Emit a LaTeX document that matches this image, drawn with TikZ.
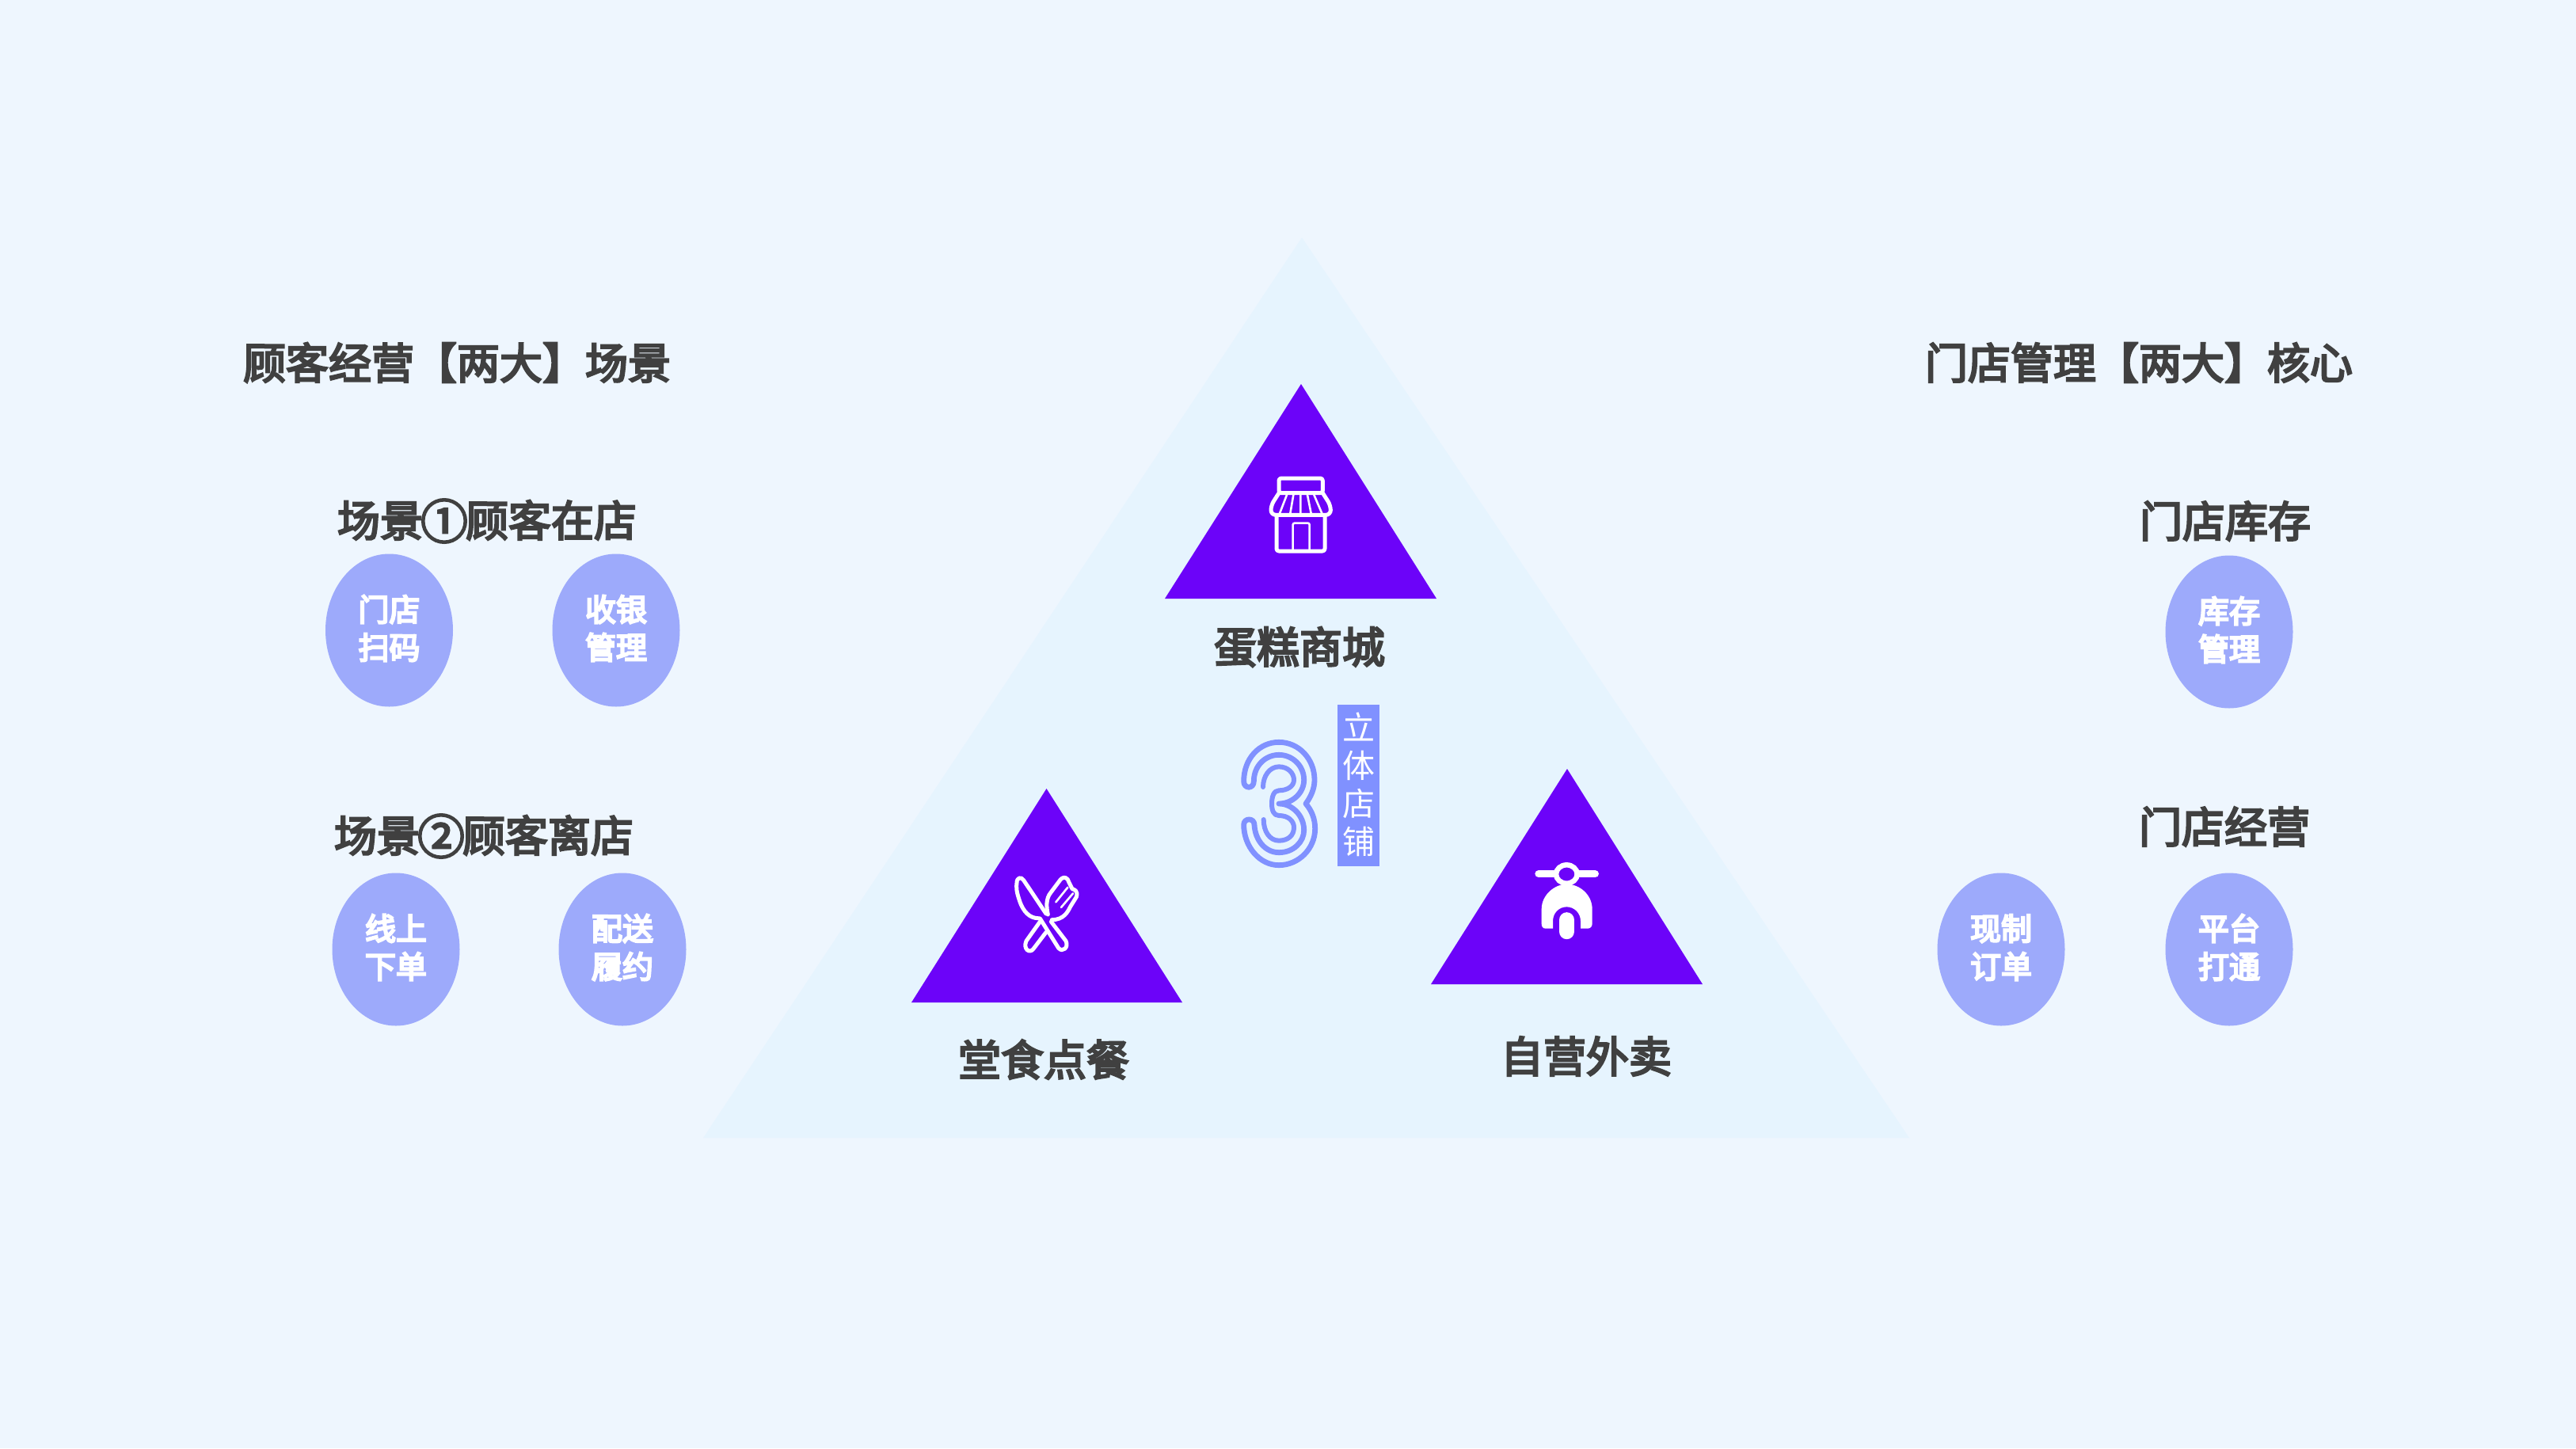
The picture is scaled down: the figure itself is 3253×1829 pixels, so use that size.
\documentclass[tikz,border=0pt]{standalone}
\usepackage{fontspec}
\usetikzlibrary{shapes.geometric}
\newfontfamily\cjk{Noto Sans CJK SC}
\newfontfamily\cjkm[FakeBold=4.5]{Noto Sans CJK SC}
\newfontfamily\cjkb[FakeBold=6]{Noto Sans CJK SC}
\newcommand{\bigcirclednum}[1]{\makebox[54pt][c]{\raisebox{-3pt}{\scalebox{1.1}{#1}}}}
\definecolor{bgc}{HTML}{EEF6FE}
\definecolor{bigtri}{HTML}{E6F4FE}
\definecolor{purp}{HTML}{6C03F9}
\definecolor{pill}{HTML}{9DAAFB}
\definecolor{peri}{HTML}{8091FF}
\definecolor{txt}{HTML}{404040}
\tikzset{
  heading/.style={inner sep=0pt,text=txt,font=\cjkm\fontsize{54}{60}\selectfont},
  bubble/.style={ellipse,fill=pill,inner sep=0pt,minimum width=161pt,minimum height=193pt,align=center,text=white,text depth=8pt,font=\cjkb\fontsize{39}{48}\selectfont},
  iconline/.style={draw=white,line width=5pt,line join=round,line cap=round},
  iconthin/.style={draw=white,line width=2.6pt,line join=round,line cap=round},
  threeline/.style={draw=peri,line join=round,line cap=round}
}
\begin{document}
\begin{tikzpicture}[x=1pt,y=-1pt]
\useasboundingbox (0,0) rectangle (3253,1829);
\fill[bgc] (0,0) rectangle (3253,1829);
\fill[bigtri] (1644,300) -- (2411,1437) -- (888,1437) -- cycle;
\fill[purp] (1643,485) -- (1814,756) -- (1471,756) -- cycle;
\fill[purp] (1321.5,996) -- (1493,1266) -- (1151,1266) -- cycle;
\fill[purp] (1979,971) -- (2150,1243) -- (1807,1243) -- cycle;
% shop icon
\begin{scope}[shift={(1420,460)},x=1/3*1pt,y=-1/3*1pt]
\draw[iconline,rounded corners=3pt] (585,432) rectangle (751,488);
\draw[iconline,rounded corners=6pt] (585,488) -- (555,535) -- (555,571) -- (781,571) -- (781,535) -- (751,488);
\draw[iconthin] (615,495) -- (588,565) (640,495) -- (628,565) (667,495) -- (667,565) (693,495) -- (707,565) (718,495) -- (748,565);
\draw[iconline,rounded corners=3pt] (576,575) -- (576,708) -- (759,708) -- (759,575);
\draw[iconthin,rounded corners=2pt] (638,702) -- (638,602) -- (701,602) -- (701,702);
\end{scope}
% knife and fork
\begin{scope}[shift={(1220,1060)},x=1/3*1pt,y=-1/3*1pt]
\draw[iconline] (303,282) -- (218,155) .. controls (208,140) and (192,145) .. (192,165) .. controls (190,180) and (190,195) .. (200,225) .. controls (210,260) and (230,292) .. (262,298) -- (280,300) -- (350,412) .. controls (365,430) and (390,410) .. (378,385) -- (322,312);
\draw[iconline] (280,312) -- (228,385) .. controls (215,415) and (240,435) .. (255,415) -- (303,352);
\draw[iconline] (325,305) .. controls (370,305) and (385,275) .. (395,255) -- (418,218) .. controls (425,195) and (410,190) .. (402,188) .. controls (395,172) and (390,165) .. (385,152) .. controls (375,140) and (365,145) .. (358,152) -- (322,200) .. controls (300,225) and (305,260) .. (310,285);
\draw[iconthin] (340,238) -- (385,182) (360,258) -- (405,205);
\end{scope}
% scooter
\begin{scope}[shift={(1880,1060)},x=1/3*1pt,y=-1/3*1pt]
\draw[white,line width=9.3pt,line cap=round] (189,131) -- (403,131);
\fill[white] (215,338) .. controls (205,338) and (200,330) .. (200,320) -- (200,265) .. controls (200,210) and (250,170) .. (295,170) .. controls (345,170) and (392,210) .. (392,265) -- (392,320) .. controls (392,330) and (385,338) .. (375,338) -- (348,338) -- (348,310) .. controls (348,280) and (325,256) .. (295,256) .. controls (265,256) and (243,280) .. (243,310) -- (243,338) -- cycle;
\draw[white,fill=purp,line width=6.5pt] (295,132) ellipse [x radius=40,y radius=35];
\draw[white,line width=19.7pt,line cap=round] (295.5,306) -- (295.5,349);
\end{scope}
% numeral
\begin{scope}[shift={(1500,860)},x=1/3*1pt,y=-1/3*1pt]
\draw[threeline,line width=6.8pt] (212,380) .. controls (212,295) and (270,232) .. (345,232) .. controls (420,232) and (480,295) .. (480,375) .. controls (480,410) and (465,440) .. (447,465) .. controls (468,490) and (482,520) .. (482,560) .. controls (482,635) and (420,698) .. (345,698) .. controls (270,698) and (212,625) .. (212,545) .. controls (212,518) and (252,518) .. (252,545) .. controls (255,605) and (295,650) .. (345,650) .. controls (400,650) and (440,610) .. (440,565) .. controls (440,510) and (395,465) .. (345,465) .. controls (395,465) and (440,425) .. (440,375) .. controls (440,320) and (395,280) .. (345,280) .. controls (295,280) and (250,320) .. (250,380) .. controls (250,410) and (212,410) .. (212,380) -- cycle;
\draw[threeline,line width=6pt] (285,402) .. controls (285,360) and (310,325) .. (345,325) .. controls (380,325) and (402,350) .. (402,375) .. controls (402,400) and (375,415) .. (345,415) .. controls (325,415) and (318,440) .. (318,465) .. controls (318,490) and (325,510) .. (345,510) .. controls (380,510) and (402,530) .. (402,555) .. controls (402,585) and (380,605) .. (345,605) .. controls (310,605) and (287,570) .. (287,525);
\end{scope}
\node[fill=peri,inner sep=0pt,minimum width=53pt,minimum height=204pt,align=center,text=white,text depth=6pt,font=\cjk\fontsize{41}{48}\selectfont] (vlabel) at (1715.5,992) {立\\体\\店\\铺};
% headings
\node[heading] (hleft) at (577,458) {顾客经营【两大】场景};
\node[heading] (hright) at (2701,458) {门店管理【两大】核心};
\node[heading] (s1) at (615,658) {场景\bigcirclednum{①}顾客在店};
\node[heading] (s2) at (611,1056) {场景\bigcirclednum{②}顾客离店};
\node[heading] (r1) at (2810,658) {门店库存};
\node[heading] (r2) at (2809,1044) {门店经营};
\node[heading] (t1) at (1641,817) {蛋糕商城};
\node[heading] (t2) at (1318,1338) {堂食点餐};
\node[heading] (t3) at (2003,1334) {自营外卖};
% bubbles
\node[bubble] (b1) at (491.5,796) {门店\\扫码};
\node[bubble] (b2) at (778,796) {收银\\管理};
\node[bubble] (b3) at (500,1199) {线上\\下单};
\node[bubble] (b4) at (786,1199) {配送\\履约};
\node[bubble] (b5) at (2815,798) {库存\\管理};
\node[bubble] (b6) at (2527,1199) {现制\\订单};
\node[bubble] (b7) at (2815,1199) {平台\\打通};
\end{tikzpicture}
\end{document}
